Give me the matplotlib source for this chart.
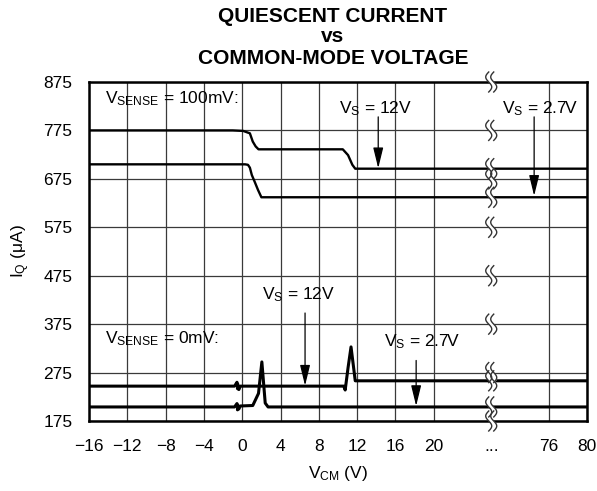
import numpy as np
import matplotlib
matplotlib.use('Agg')
import matplotlib.pyplot as plt
from matplotlib.ticker import FixedLocator, FixedFormatter

plt.rcParams['font.family'] = ['Liberation Sans', 'DejaVu Sans']
plt.rcParams['mathtext.fontset'] = 'custom'
plt.rcParams['mathtext.rm'] = 'Liberation Sans'

# V_CM (V) / I_Q (uA)
vcm_12v_100 = [-16, -1, 0.1, 0.8, 1.1, 1.4, 1.7, 10.5, 11.05, 11.5, 11.8, 80]
iq_12v_100 = [775, 775, 774, 769, 752, 742, 736, 736, 724, 704, 696, 696]

vcm_27v_100 = [-16, 0.3, 0.6, 0.8, 1.0, 1.3, 1.65, 2.0, 80]
iq_27v_100 = [705, 705, 704, 698, 683, 669, 652, 637, 637]

vcm_12v_0 = [-16, -0.8, -0.55, -0.45, -0.5, -0.35, -0.2, 10.6, 10.75, 11.05, 11.36, 11.6, 11.8, 80]
iq_12v_0 = [247, 247, 255, 250, 242, 240, 247, 247, 239, 285, 328, 290, 258, 258]

vcm_27v_0 = [-16, -0.8, -0.55, -0.45, -0.5, -0.35, -0.2, 1.1, 1.7, 2.05, 2.4, 2.7, 80]
iq_27v_0 = [204, 204, 211, 207, 198, 200, 206, 207, 232, 297, 212, 204, 204]

xtick_vals = [-16, -12, -8, -4, 0, 4, 8, 12, 16, 20, 76, 80]
xtick_labels = ['\u221216', '\u221212', '\u22128', '\u22124', '0', '4', '8',
                '12', '16', '20', '76', '80']
ytick_vals = [175, 275, 375, 475, 575, 675, 775, 875]


def to_pos(x):
    # broken axis: -16..20 and 76..80 share one scale, the gap squeezed in between
    x = np.asarray(x, dtype=float)
    return np.where(x <= 20, (x + 16) / 4,
                    np.where(x >= 76, 12 + (x - 76) / 4, 9 + (x - 20) / 56 * 3))


fig = plt.figure(figsize=(5.97, 4.91), dpi=100)
ax = fig.add_axes([89 / 597, 70 / 491, 498 / 597, 339 / 491])

ax.set_xlim(0, 13)
ax.set_ylim(175, 875)
ax.xaxis.set_major_locator(FixedLocator(to_pos(xtick_vals)))
ax.xaxis.set_major_formatter(FixedFormatter(xtick_labels))
ax.xaxis.set_minor_locator(FixedLocator([10.5]))
ax.xaxis.set_minor_formatter(FixedFormatter(['...']))
ax.set_yticks(ytick_vals)
ax.tick_params(which='both', length=0, labelsize=12.5)
ax.tick_params(axis='x', which='both', pad=13)
ax.tick_params(axis='y', pad=12)
ax.grid(which='major', color='#3a3a3a', lw=0.9)
ax.set_axisbelow(True)
for s in ax.spines.values():
    s.set_linewidth(1.8)

ax.plot(to_pos(vcm_12v_100), iq_12v_100, color='k', lw=1.7, zorder=3)
ax.plot(to_pos(vcm_27v_100), iq_27v_100, color='k', lw=1.7, zorder=3)
ax.plot(to_pos(vcm_12v_0), iq_12v_0, color='k', lw=2.2, zorder=3)
ax.plot(to_pos(vcm_27v_0), iq_27v_0, color='k', lw=2.2, zorder=3)

# break marks at the gap
px_x = 13 / 498
px_y = 700 / 339
t = np.linspace(-1, 1, 40)
for lvl in ytick_vals + [iq_12v_100[-1], iq_27v_100[-1], iq_12v_0[-1], iq_27v_0[-1]]:
    yy = lvl + 10 * px_y * t
    xa = 10.5 - 2.5 * px_x - 3 * px_x * np.sin(np.pi * t)
    xb = xa + 5 * px_x
    ax.fill_betweenx(yy, xa, xb, color='white', zorder=5, clip_on=False, lw=0)
    ax.plot(xa, yy, color='#333333', lw=1.0, zorder=6, clip_on=False)
    ax.plot(xb, yy, color='#333333', lw=1.0, zorder=6, clip_on=False)

# labels and arrows
arrow = dict(arrowstyle='-|>,head_length=0.9,head_width=0.22', color='k',
             lw=0.9, shrinkA=0, shrinkB=0, mutation_scale=14)
fs = 12.5
ax.text(0.42, 840, r'$\mathregular{V_{SENSE}}$ = 100mV:', fontsize=fs, va='center', zorder=7)
ax.text(0.42, 346, r'$\mathregular{V_{SENSE}}$ = 0mV:', fontsize=fs, va='center', zorder=7)
ax.text(7.48, 821, r'$\mathregular{V_S}$ = 12V', fontsize=fs, ha='center', va='center', zorder=7)
ax.text(11.78, 821, r'$\mathregular{V_S}$ = 2.7V', fontsize=fs, ha='center', va='center', zorder=7)
ax.text(5.48, 435, r'$\mathregular{V_S}$ = 12V', fontsize=fs, ha='center', va='center', zorder=7)
ax.text(8.7, 338, r'$\mathregular{V_S}$ = 2.7V', fontsize=fs, ha='center', va='center', zorder=7)
ax.annotate('', xy=(7.55, 697), xytext=(7.55, 803), arrowprops=arrow, zorder=7)
ax.annotate('', xy=(11.62, 640), xytext=(11.62, 803), arrowprops=arrow, zorder=7)
ax.annotate('', xy=(5.64, 248), xytext=(5.64, 398), arrowprops=arrow, zorder=7)
ax.annotate('', xy=(8.54, 206), xytext=(8.54, 300), arrowprops=arrow, zorder=7)

ax.set_xlabel(r'$\mathregular{V_{CM}}$ (V)', fontsize=12.5, va='center')
ax.xaxis.set_label_coords(0.5, -0.155)
ax.set_ylabel(r'$\mathregular{I_Q}$ ($\mathregular{\mu}$A)', fontsize=12.5, labelpad=8)

cx = 333 / 597
fig.text(cx, 1 - 16 / 491, 'QUIESCENT CURRENT', ha='center', va='center',
         fontsize=15, fontweight='bold')
fig.text(cx, 1 - 37 / 491, 'vs', ha='center', va='center', fontsize=15, fontweight='bold')
fig.text(cx, 1 - 58 / 491, 'COMMON-MODE VOLTAGE', ha='center', va='center',
         fontsize=15, fontweight='bold')

fig.savefig('out.png', dpi=100)
